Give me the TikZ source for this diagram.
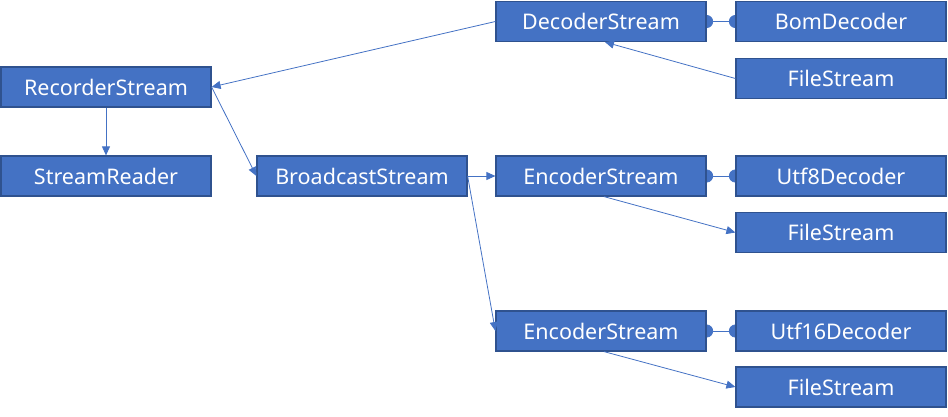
\documentclass[tikz,border=0pt]{standalone}
\usepackage{fontspec}
\setmainfont{Noto Sans}
\usetikzlibrary{arrows.meta,backgrounds}
\definecolor{boxfill}{HTML}{4472C4}
\definecolor{boxline}{HTML}{2F528F}
\definecolor{conn}{HTML}{4472C4}
\tikzset{
  box/.style={draw=boxline, fill=boxfill, line width=1.2pt, minimum width=210pt, minimum height=40pt,
    inner sep=0pt, text=white, font=\fontsize{21.5}{24}\selectfont},
  arr/.style={draw=conn, line width=0.8pt, -{Triangle[length=9pt,width=8pt]}},
  dot/.style={draw=conn, line width=0.8pt, {Circle[length=13pt]}-{Circle[length=13pt]}, shorten <=-6.5pt, shorten >=-6.5pt}
}
\begin{document}
\begin{tikzpicture}[x=1pt,y=-1pt]
\useasboundingbox (0,0) rectangle (948,416);
\node[box] (rec) at (106,87) {RecorderStream};
\node[box] (sr) at (106,176) {StreamReader};
\node[box] (bc) at (362,176) {BroadcastStream};
\node[box] (dec) at (601,21.5) {DecoderStream};
\node[box] (bom) at (841,21.5) {BomDecoder};
\node[box] (fs1) at (841,78.5) {FileStream};
\node[box] (enc1) at (601,176) {EncoderStream};
\node[box] (u8) at (841,176) {Utf8Decoder};
\node[box] (fs2) at (841,232.5) {FileStream};
\node[box] (enc2) at (601,331) {EncoderStream};
\node[box] (u16) at (841,331) {Utf16Decoder};
\node[box] (fs3) at (841,387) {FileStream};
\begin{pgfonlayer}{background}
\draw[dot] (dec.east) -- (bom.west);
\draw[dot] (enc1.east) -- (u8.west);
\draw[dot] (enc2.east) -- (u16.west);
\end{pgfonlayer}
\draw[arr] (dec.west) -- (rec.east);
\draw[arr] (rec.south) -- (sr.north);
\draw[arr] (rec.east) -- (bc.west);
\draw[arr] (bc.east) -- (enc1.west);
\draw[arr] (bc.east) -- (enc2.west);
\draw[arr] (fs1.west) -- ([xshift=4pt]dec.south);
\draw[arr] ([xshift=3pt]enc1.south) -- (fs2.west);
\draw[arr] ([xshift=3pt]enc2.south) -- (fs3.west);
\end{tikzpicture}
\end{document}
